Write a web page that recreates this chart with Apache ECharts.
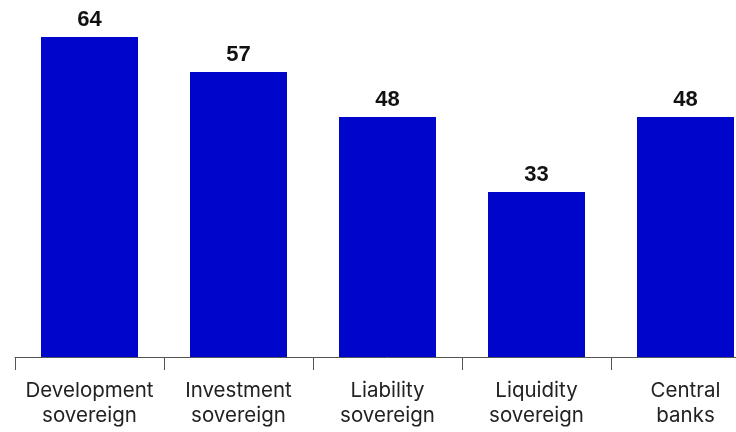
<!DOCTYPE html>
<html><head><meta charset="utf-8">
<script src="https://cdn.jsdelivr.net/npm/echarts@6/dist/echarts.min.js"></script>
<style>html,body{margin:0;padding:0;background:#fff;overflow:hidden;width:736px;height:432px}#c{width:760px;height:432px}</style>
</head><body><div id="c"></div>
<script>
const categories = ['Development\nsovereign', 'Investment\nsovereign', 'Liability\nsovereign', 'Liquidity\nsovereign', 'Central\nbanks'];
const values = [64, 57, 48, 33, 48];

const chart = echarts.init(document.getElementById('c'), null, {renderer: 'canvas'});
chart.setOption({
  animation: false,
  grid: {left: 15, right: 0, top: 37, bottom: 75, containLabel: false},
  xAxis: {
    type: 'category',
    data: categories,
    axisLine: {show: true, lineStyle: {color: '#555', width: 1}},
    axisTick: {show: true, length: 13, alignWithLabel: false, interval: 0, lineStyle: {color: '#555', width: 1}},
    axisLabel: {show: true, interval: 0, hideOverlap: false, color: '#222', fontFamily: 'Inter', fontSize: 20.5, lineHeight: 25, margin: 21}
  },
  yAxis: {type: 'value', min: 0, max: 64, show: false, splitLine: {show: false}},
  series: [{
    type: 'bar',
    data: values,
    barWidth: 97,
    itemStyle: {color: '#0005cc'},
    label: {show: true, position: 'top', distance: 6, color: '#111', fontFamily: 'Liberation Sans', fontWeight: 'bold', fontSize: 22}
  }]
});
</script></body></html>
